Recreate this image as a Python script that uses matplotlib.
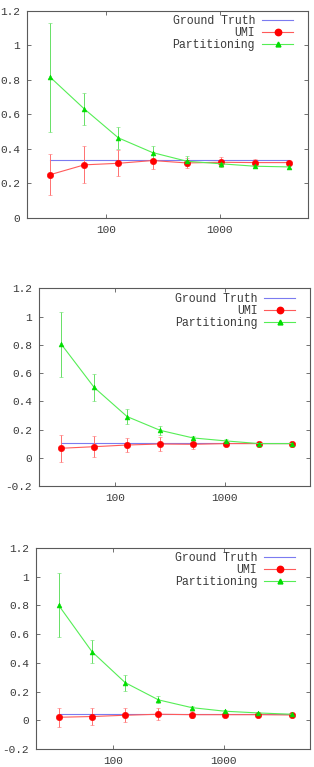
import numpy as np
import matplotlib
matplotlib.use("Agg")
import matplotlib.pyplot as plt
from matplotlib.ticker import FixedLocator, NullLocator, FuncFormatter
from matplotlib.lines import Line2D

plt.rcParams['font.family'] = ['Liberation Mono', 'DejaVu Sans Mono']
plt.rcParams['axes.unicode_minus'] = False

# sample sizes (x axis, log scale)
sizes = [32, 64, 128, 256, 512, 1024, 2048, 4096]

# panel 1
truth_1 = 0.333
umi_1 = [0.25, 0.307, 0.316, 0.332, 0.318, 0.322, 0.32, 0.32]
umi_err_1 = [0.12, 0.107, 0.075, 0.05, 0.03, 0.03, 0.02, 0.01]
part_1 = [0.815, 0.631, 0.463, 0.378, 0.328, 0.313, 0.299, 0.295]
part_err_1 = [0.315, 0.094, 0.063, 0.04, 0.03, 0.02, 0.01, 0.01]

# panel 2
truth_2 = 0.107
umi_2 = [0.069, 0.080, 0.092, 0.099, 0.097, 0.102, 0.102, 0.102]
umi_err_2 = [0.094, 0.074, 0.05, 0.05, 0.03, 0.02, 0.01, 0.01]
part_2 = [0.805, 0.499, 0.293, 0.196, 0.142, 0.121, 0.102, 0.102]
part_err_2 = [0.23, 0.098, 0.052, 0.033, 0.015, 0.01, 0.005, 0.005]

# panel 3
truth_3 = 0.042
umi_3 = [0.021, 0.026, 0.035, 0.042, 0.039, 0.039, 0.039, 0.037]
umi_err_3 = [0.066, 0.057, 0.047, 0.04, 0.025, 0.01, 0.005, 0.005]
part_3 = [0.801, 0.478, 0.262, 0.142, 0.088, 0.063, 0.051, 0.042]
part_err_3 = [0.222, 0.08, 0.055, 0.025, 0.01, 0.008, 0.005, 0.005]

y_ticks_1 = [0, 0.2, 0.4, 0.6, 0.8, 1, 1.2]
y_ticks_2 = [-0.2, 0, 0.2, 0.4, 0.6, 0.8, 1, 1.2]

BLUE = '#7b7bf0'
RED = '#ff0000'
RED_LINE = '#ff5a5a'
GREEN = '#00dd00'
GREEN_LINE = '#55ee55'
FRAME = '#5a5a5a'
TEXT = '#3a3a3a'


def draw_panel(ax, truth, umi, umi_err, part, part_err, yticks, ylim):
    ax.plot(sizes, [truth] * len(sizes), color=BLUE, lw=0.8)
    ax.errorbar(sizes, umi, yerr=umi_err, color=RED_LINE, ecolor='#ff7070',
                elinewidth=0.7, capsize=1.6, capthick=0.7, lw=0.8,
                marker='o', ms=4.6, mew=0.4, mfc=RED, mec=RED)
    ax.errorbar(sizes, part, yerr=part_err, color=GREEN_LINE, ecolor='#66e066',
                elinewidth=0.7, capsize=1.6, capthick=0.7, lw=0.8,
                marker='^', ms=3.5, mew=0.4, mfc=GREEN, mec=GREEN)

    ax.set_xscale('log')
    ax.set_xlim(20, 6000)
    ax.set_ylim(*ylim)
    ax.xaxis.set_major_locator(FixedLocator([100, 1000]))
    ax.xaxis.set_minor_locator(NullLocator())
    ax.xaxis.set_major_formatter(FuncFormatter(lambda v, p: f'{v:g}'))
    ax.yaxis.set_major_locator(FixedLocator(yticks))
    ax.yaxis.set_major_formatter(FuncFormatter(lambda v, p: f'{v:g}'))
    ax.tick_params(direction='in', top=True, right=True, length=3,
                   width=0.6, color=FRAME, labelsize=8, labelcolor=TEXT)
    ax.tick_params(axis='x', pad=5)
    ax.tick_params(axis='y', pad=5)
    for s in ax.spines.values():
        s.set_color(FRAME)
        s.set_linewidth(0.8)

    handles = [
        Line2D([], [], color=BLUE, lw=0.8),
        Line2D([], [], color=RED_LINE, lw=0.8, marker='o', ms=4.6, mfc=RED, mec=RED),
        Line2D([], [], color=GREEN_LINE, lw=0.8, marker='^', ms=3.5, mfc=GREEN, mec=GREEN),
    ]
    ax.legend(handles, ['Ground Truth', 'UMI', 'Partitioning'], loc='upper right',
              bbox_to_anchor=(0.955, 0.99), frameon=False, markerfirst=False,
              fontsize=8.3, handlelength=2.7, labelspacing=0.0,
              borderaxespad=0.0, borderpad=0.2, handletextpad=0.6,
              numpoints=1, labelcolor=TEXT)


fig = plt.figure(figsize=(3.14, 7.67), dpi=100)

ax1 = fig.add_axes([0.086, 0.716, 0.895, 0.270])
draw_panel(ax1, truth_1, umi_1, umi_err_1, part_1, part_err_1, y_ticks_1, (0, 1.2))

ax2 = fig.add_axes([0.124, 0.366, 0.863, 0.258])
draw_panel(ax2, truth_2, umi_2, umi_err_2, part_2, part_err_2, y_ticks_2, (-0.2, 1.2))

ax3 = fig.add_axes([0.115, 0.0235, 0.872, 0.262])
draw_panel(ax3, truth_3, umi_3, umi_err_3, part_3, part_err_3, y_ticks_2, (-0.2, 1.2))

fig.savefig('out.png', dpi=100)
